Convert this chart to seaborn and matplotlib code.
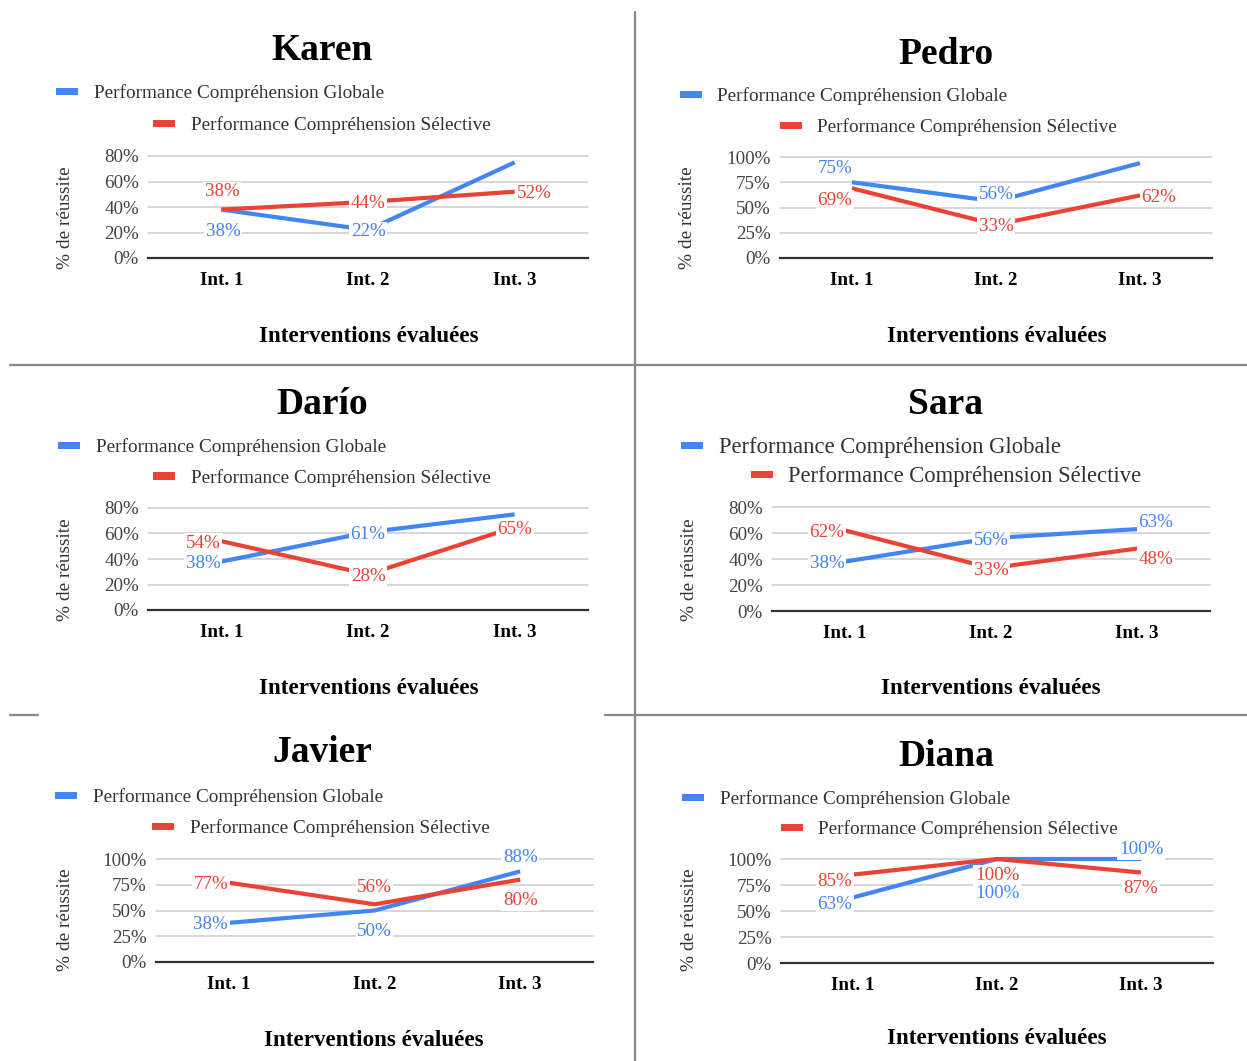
import matplotlib
matplotlib.use("Agg")
import matplotlib.pyplot as plt
import matplotlib.ticker as mticker
from matplotlib.patches import Rectangle
from matplotlib.lines import Line2D
import pandas as pd
import seaborn as sns

# ---- data -----------------------------------------------------------------
interventions = ["Int. 1", "Int. 2", "Int. 3"]
students = ["Karen", "Pedro", "Darío", "Sara", "Javier", "Diana"]
serie_globale = "Performance Compréhension Globale"
serie_selective = "Performance Compréhension Sélective"

karen_globale = [38, 22, 75]
karen_selective = [38, 44, 52]
pedro_globale = [75, 56, 94]
pedro_selective = [69, 33, 62]
dario_globale = [38, 61, 75]
dario_selective = [54, 28, 65]
sara_globale = [38, 56, 63]
sara_selective = [62, 33, 48]
javier_globale = [38, 50, 88]
javier_selective = [77, 56, 80]
diana_globale = [63, 100, 100]
diana_selective = [85, 100, 87]

y_max = [80, 100, 80, 80, 100, 100]
y_step = [20, 25, 20, 20, 25, 25]

globale_values = [karen_globale, pedro_globale, dario_globale,
                  sara_globale, javier_globale, diana_globale]
selective_values = [karen_selective, pedro_selective, dario_selective,
                    sara_selective, javier_selective, diana_selective]

# ---- styling / layout (pixel coordinates) ------------------------------------
W, H = 1247, 1061
BLUE = "#4285F4"
RED = "#EA4335"
TEXT_SHIFT = 3  # visual centring correction for va="center" text, in pixels

# value-label offsets in pixels (dx, dy up); None = no label shown
label_pos_globale = [
    [(2, -20), (0, 0), None],
    [(-17, 16), (0, 9), None],
    [(-18, 0), (0, 0), None],
    [(-18, 0), (0, 0), (19, 9)],
    [(-18, 0), (0, -19), (0, 16)],
    [(-18, -5), (0, -33), (0, 11)],
]
label_pos_selective = [
    [(1, 20), (0, 0), (20, 0)],
    [(-17, -10), (0, 0), (19, 0)],
    [(-18, 0), (0, 0), (0, 0)],
    [(-18, 0), (0, 0), (19, -9)],
    [(-18, 0), (0, 19), (0, -19)],
    [(-18, -5), (0, -14), (0, -14)],
]

panels = [
    dict(ax=(148, 156, 588, 258), title=(322, 48), blue=(56, 91, 94), red=(153, 123, 191),
         ylab=(65, 218), xlab=(369, 334), legsize=13.9),
    dict(ax=(780, 157, 1212, 258), title=(946, 51), blue=(680, 94, 717), red=(780, 125, 817),
         ylab=(688, 218), xlab=(997, 333), legsize=13.9),
    dict(ax=(148, 508, 588, 610), title=(322, 401), blue=(58, 445, 96), red=(153, 476, 191),
         ylab=(66, 570), xlab=(369, 685), legsize=13.9),
    dict(ax=(772, 507, 1210, 611), title=(946, 401), blue=(681, 445, 719), red=(751, 475, 788),
         ylab=(689, 570), xlab=(991, 685), legsize=16.3),
    dict(ax=(156, 859, 593, 962), title=(322, 750), blue=(55, 795, 93), red=(152, 826, 190),
         ylab=(65, 920), xlab=(374, 1038), legsize=13.9),
    dict(ax=(781, 859, 1213, 963), title=(946, 753), blue=(682, 797, 720), red=(781, 827, 818),
         ylab=(690, 920), xlab=(997, 1036), legsize=13.9),
]

sns.set_theme(style="white")
plt.rcParams["font.family"] = ["Liberation Serif", "DejaVu Serif"]

fig = plt.figure(figsize=(W / 100, H / 100), dpi=100)
fig.patch.set_facecolor("white")


def fx(x):
    return x / W


def fy(y):
    return 1 - y / H


def legend_entry(x_sw, y, x_txt, color, text, size):
    fig.add_artist(Rectangle((fx(x_sw), fy(y + 3.5)), 22 / W, 7 / H,
                             transform=fig.transFigure, facecolor=color,
                             edgecolor="none"))
    fig.text(fx(x_txt), fy(y + TEXT_SHIFT - 1), text, ha="left", va="center",
             fontsize=size, color="#333333")


for i, name in enumerate(students):
    p = panels[i]
    l, t, r, b = p["ax"]
    ax = fig.add_axes([fx(l), fy(b), (r - l) / W, (b - t) / H])

    g = globale_values[i]
    s = selective_values[i]
    df = pd.DataFrame({
        "intervention": interventions * 2,
        "valeur": g + s,
        "série": [serie_globale] * 3 + [serie_selective] * 3,
    })
    sns.lineplot(data=df, x="intervention", y="valeur", hue="série",
                 palette={serie_globale: BLUE, serie_selective: RED},
                 linewidth=3, legend=False, sort=False, ax=ax)
    for ln in ax.lines:
        ln.set_clip_on(False)
        ln.set_solid_capstyle("butt")

    ax.set_xlim(-0.5, 2.5)
    ax.set_ylim(0, y_max[i])
    ax.set_yticks(list(range(0, y_max[i] + 1, y_step[i])))
    ax.yaxis.set_major_formatter(mticker.PercentFormatter(xmax=100, decimals=0))
    ax.grid(axis="y", color="#cccccc", linewidth=1.1)
    for gl in ax.get_ygridlines():
        gl.set_clip_on(False)
    ax.set_axisbelow(True)
    for side in ("top", "left", "right"):
        ax.spines[side].set_visible(False)
    ax.spines["bottom"].set_color("#333333")
    ax.spines["bottom"].set_linewidth(1.6)
    ax.spines["bottom"].set_zorder(2.5)
    ax.tick_params(axis="y", length=0, pad=6.5, labelsize=13.7, labelcolor="#444444")
    ax.tick_params(axis="x", length=0, pad=10, labelsize=13.7, labelcolor="black")
    for lbl in ax.get_xticklabels():
        lbl.set_fontweight("bold")
    ax.set_xlabel("")
    ax.set_ylabel("")

    # value labels with white backing
    for vals, offs, col in ((g, label_pos_globale[i], BLUE),
                            (s, label_pos_selective[i], RED)):
        for k, (v, off) in enumerate(zip(vals, offs)):
            if off is None:
                continue
            ax.annotate(f"{v}%", xy=(k, v), xytext=(off[0], off[1] - 2),
                        textcoords="offset pixels",
                        ha="center", va="center", fontsize=13.7, color=col,
                        annotation_clip=False, zorder=5,
                        bbox=dict(boxstyle="square,pad=0.08", facecolor="white",
                                  edgecolor="none"))

    # titles, axis names, legend
    fig.text(fx(p["title"][0]), fy(p["title"][1] + TEXT_SHIFT), name, ha="center",
             va="center", fontsize=27, fontweight="bold", color="black")
    fig.text(fx(p["ylab"][0]), fy(p["ylab"][1]), "% de réussite", ha="center",
             va="center", rotation=90, fontsize=13.9, color="#333333")
    fig.text(fx(p["xlab"][0]), fy(p["xlab"][1] + TEXT_SHIFT), "Interventions évaluées",
             ha="center", va="center", fontsize=16.6, fontweight="bold", color="black")
    bx, by, btx = p["blue"]
    rx, ry, rtx = p["red"]
    legend_entry(bx, by, btx, BLUE, serie_globale, p["legsize"])
    legend_entry(rx, ry, rtx, RED, serie_selective, p["legsize"])

# panel separators
SEP = "#888888"
fig.add_artist(Line2D([fx(635), fx(635)], [fy(12), fy(1061)], color=SEP, lw=1.6,
                      transform=fig.transFigure))
fig.add_artist(Line2D([fx(10), fx(1247)], [fy(365), fy(365)], color=SEP, lw=1.6,
                      transform=fig.transFigure))
fig.add_artist(Line2D([fx(10), fx(38)], [fy(715), fy(715)], color=SEP, lw=1.6,
                      transform=fig.transFigure))
fig.add_artist(Line2D([fx(605), fx(1247)], [fy(715), fy(715)], color=SEP, lw=1.6,
                      transform=fig.transFigure))

fig.savefig("out.png", dpi=100, facecolor="white")
